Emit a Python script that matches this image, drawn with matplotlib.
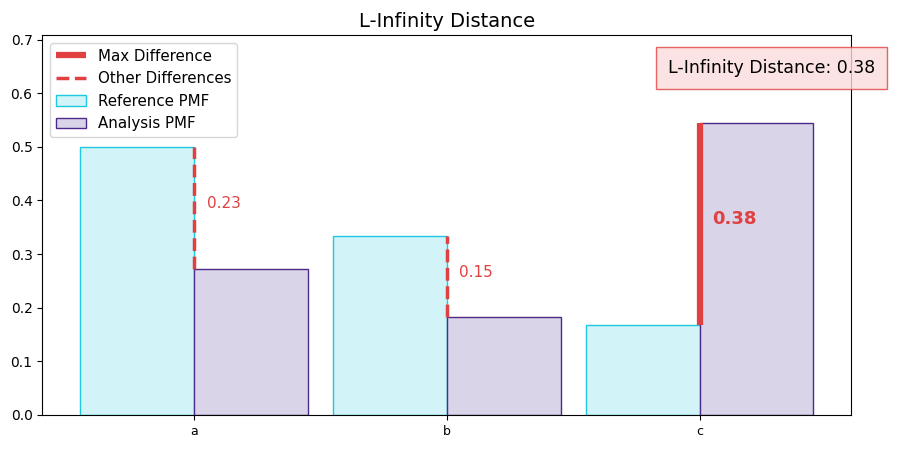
import numpy as np
import matplotlib
matplotlib.use("Agg")
import matplotlib.pyplot as plt

# data
categories = ['a', 'b', 'c']
reference_pmf = [0.5, 0.333, 0.167]
analysis_pmf = [0.273, 0.182, 0.545]

red = '#e04040'
width = 0.45

fig, ax = plt.subplots(figsize=(9, 4.5), dpi=100)
fig.subplots_adjust(left=0.047, right=0.946, top=0.922, bottom=0.078)
x = np.arange(len(categories))

ax.bar(x, reference_pmf, width=-width, align='edge', facecolor='#d2f3f7',
       edgecolor='#1ec8e0', linewidth=1, label='Reference PMF')
ax.bar(x, analysis_pmf, width=width, align='edge', facecolor='#dad4e8',
       edgecolor='#4b2a8a', linewidth=1, label='Analysis PMF')

diffs = [abs(r - a) for r, a in zip(reference_pmf, analysis_pmf)]
imax = int(np.argmax(diffs))
for i in range(len(categories)):
    lo = min(reference_pmf[i], analysis_pmf[i])
    hi = max(reference_pmf[i], analysis_pmf[i])
    mid = (lo + hi) / 2
    if i == imax:
        ax.plot([x[i], x[i]], [lo, hi], color=red, linewidth=4.5,
                solid_capstyle='butt', label='Max Difference')
        ax.text(x[i] + 0.05, mid, f'{diffs[i]:.2f}', color=red, fontsize=13,
                fontweight='bold')
    else:
        ax.plot([x[i], x[i]], [lo, hi], color=red, linewidth=2.5,
                linestyle='--', label='Other Differences')
        ax.text(x[i] + 0.05, mid, f'{diffs[i]:.2f}', color=red, fontsize=11)

ax.set_xticks(x)
ax.set_xticklabels(categories, fontsize=9)
ax.set_xlim(-0.6, 2.6)
ax.set_ylim(0, max(max(reference_pmf), max(analysis_pmf)) * 1.3)
ax.set_title('L-Infinity Distance', fontsize=14)

h, l = ax.get_legend_handles_labels()
order = [l.index('Max Difference'), l.index('Other Differences'),
         l.index('Reference PMF'), l.index('Analysis PMF')]
ax.legend([h[k] for k in order], [l[k] for k in order], loc='upper left',
          fontsize=10.8)

ax.text(0.901, 0.913, f'L-Infinity Distance: {diffs[imax]:.2f}',
        transform=ax.transAxes, ha='center', va='center', fontsize=12.5,
        bbox=dict(boxstyle='square,pad=0.7', facecolor='#fadcdc',
                  edgecolor=red, alpha=0.8))

plt.savefig('out.png', dpi=100)
